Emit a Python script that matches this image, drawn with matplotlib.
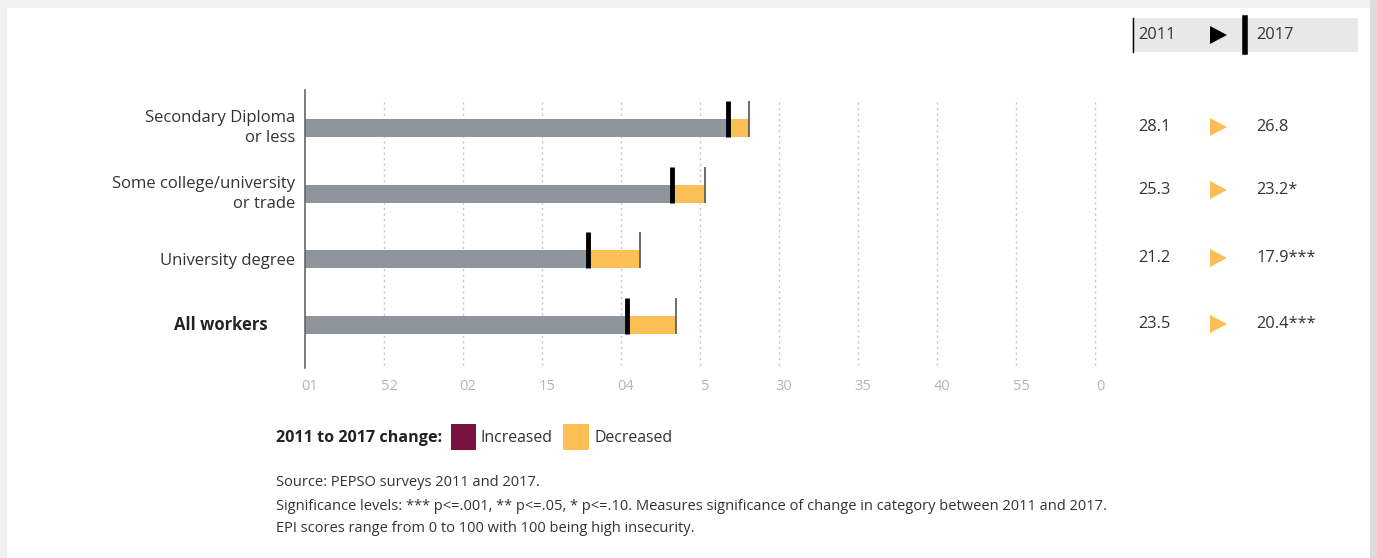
import matplotlib.pyplot as plt
import matplotlib.transforms as mtransforms
from matplotlib.patches import Rectangle, Polygon

# data
categories = ['Secondary Diploma\nor less', 'Some college/university\nor trade',
              'University degree', 'All workers']
epi_2011 = [28.1, 25.3, 21.2, 23.5]
epi_2017 = [26.8, 23.2, 17.9, 20.4]
labels_2011 = ['28.1', '25.3', '21.2', '23.5']
labels_2017 = ['26.8', '23.2*', '17.9***', '20.4***']
tick_values = [0, 5, 10, 15, 20, 25, 30, 35, 40, 45, 50]
tick_labels = ['01', '52', '02', '15', '04', '5', '30', '35', '40', '55', '0']

W, H = 1377, 558
GRAY = '#8e959d'
ORANGE = '#fbbf55'
MAROON = '#7a1240'
TEXT = '#333333'

plt.rcParams['font.family'] = ['Open Sans', 'DejaVu Sans']

fig = plt.figure(figsize=(W / 100, H / 100), dpi=100, facecolor='#f1f1f1')


def fx(px):
    return px / W


def fy(py):
    return 1 - py / H


# white card behind everything
fig.patches.append(Rectangle((fx(7), 0), fx(1370) - fx(7), fy(8), transform=fig.transFigure,
                             facecolor='white', edgecolor='none', zorder=-2))
fig.patches.append(Rectangle((fx(1370), 0), fx(1377) - fx(1370), 1, transform=fig.transFigure,
                             facecolor='#dcdcdc', edgecolor='none', zorder=-2))

# main axes: x 0..50 -> px 305..1095, y top 90 -> bottom 368
ax = fig.add_axes([fx(305), fy(368), fx(1095) - fx(305), fy(90) - fy(368)])
ax.set_facecolor('none')
unit = 65.67
ax.set_xlim(0, 50)
ax.set_ylim(3.655, -0.579)

bh = 18 / unit
ypos = list(range(len(categories)))

for v in tick_values[1:]:
    ax.vlines(v, -0.396, 3.655, colors='#c4c4c4', linestyles=(0, (1.5, 2.5)), linewidth=1,
              zorder=1, clip_on=False)

for i, y in enumerate(ypos):
    lo, hi = min(epi_2011[i], epi_2017[i]), max(epi_2011[i], epi_2017[i])
    ax.barh(y, lo, height=bh, color=GRAY, zorder=2)
    col = ORANGE if epi_2017[i] < epi_2011[i] else MAROON
    ax.barh(y, hi - lo, left=lo, height=bh, color=col, zorder=2)
    ax.vlines(epi_2011[i], y - bh / 2 - 18 / unit, y + bh / 2, colors='#555555', linewidth=1.2, zorder=3)
    ax.vlines(epi_2017[i], y - bh / 2 - 18 / unit, y + bh / 2, colors='black', linewidth=3.5, zorder=4)

ax.set_xticks(tick_values)
ax.set_xticklabels(tick_labels, color='#b4b4bc', fontsize=10.5)
ax.tick_params(axis='x', length=0, pad=8)
shift = mtransforms.ScaledTranslation(5 / 100, 0, fig.dpi_scale_trans)
for lbl in ax.get_xticklabels():
    lbl.set_transform(lbl.get_transform() + shift)
ax.set_yticks([])
for s in ['top', 'right', 'bottom']:
    ax.spines[s].set_visible(False)
ax.spines['left'].set_color('#666666')
ax.spines['left'].set_linewidth(1.2)

# category labels
label_y = [128, 194, 261, 325]
for i, lab in enumerate(categories):
    if lab == 'All workers':
        fig.text(fx(268), fy(label_y[i]), lab, ha='right', va='center', fontsize=12,
                 fontweight='bold', color='#222222')
    else:
        fig.text(fx(295), fy(label_y[i]), lab, ha='right', va='center', fontsize=12,
                 color=TEXT, linespacing=1.4)

# right-hand table header
fig.patches.append(Rectangle((fx(1132), fy(52)), fx(1358) - fx(1132), fy(18) - fy(52),
                             transform=fig.transFigure, facecolor='#e8e8e8', edgecolor='none'))
fig.lines.append(plt.Line2D([fx(1133), fx(1133)], [fy(18), fy(52)], transform=fig.transFigure,
                            color='black', linewidth=1))
fig.lines.append(plt.Line2D([fx(1245), fx(1245)], [fy(18), fy(52)], transform=fig.transFigure,
                            color='black', linewidth=4))
fig.text(fx(1138), fy(35), '2011', ha='left', va='center', fontsize=11.8, color=TEXT)
fig.text(fx(1256), fy(35), '2017', ha='left', va='center', fontsize=11.8, color=TEXT)


def triangle(cx, cy, color):
    pts = [(fx(cx - 8), fy(cy - 9)), (fx(cx - 8), fy(cy + 9)), (fx(cx + 9), fy(cy))]
    fig.patches.append(Polygon(pts, closed=True, transform=fig.transFigure,
                               facecolor=color, edgecolor='none'))


triangle(1218, 35, 'black')

table_y = [127, 190, 258, 324]
for i in range(len(categories)):
    fig.text(fx(1138), fy(table_y[i]), labels_2011[i], ha='left', va='center', fontsize=11.8, color=TEXT)
    triangle(1218, table_y[i], ORANGE)
    fig.text(fx(1256), fy(table_y[i]), labels_2017[i], ha='left', va='center', fontsize=11.8, color=TEXT)

# legend
fig.text(fx(276), fy(438), '2011 to 2017 change:', ha='left', va='center', fontsize=11.6,
         fontweight='bold', color='#222222')
fig.patches.append(Rectangle((fx(451), fy(450)), fx(476) - fx(451), fy(424) - fy(450),
                             transform=fig.transFigure, facecolor=MAROON, edgecolor='none'))
fig.text(fx(481), fy(438), 'Increased', ha='left', va='center', fontsize=11.4, color=TEXT)
fig.patches.append(Rectangle((fx(563), fy(450)), fx(589) - fx(563), fy(424) - fy(450),
                             transform=fig.transFigure, facecolor=ORANGE, edgecolor='none'))
fig.text(fx(594), fy(438), 'Decreased', ha='left', va='center', fontsize=11.4, color=TEXT)

# footnotes
notes = ['Source: PEPSO surveys 2011 and 2017.',
         'Significance levels: *** p<=.001, ** p<=.05, * p<=.10. Measures significance of change in category between 2011 and 2017.',
         'EPI scores range from 0 to 100 with 100 being high insecurity.']
for t, y in zip(notes, [482, 506, 528]):
    fig.text(fx(276), fy(y), t, ha='left', va='center', fontsize=10.55, color=TEXT)

fig.savefig('out.png', dpi=100, facecolor=fig.get_facecolor())
